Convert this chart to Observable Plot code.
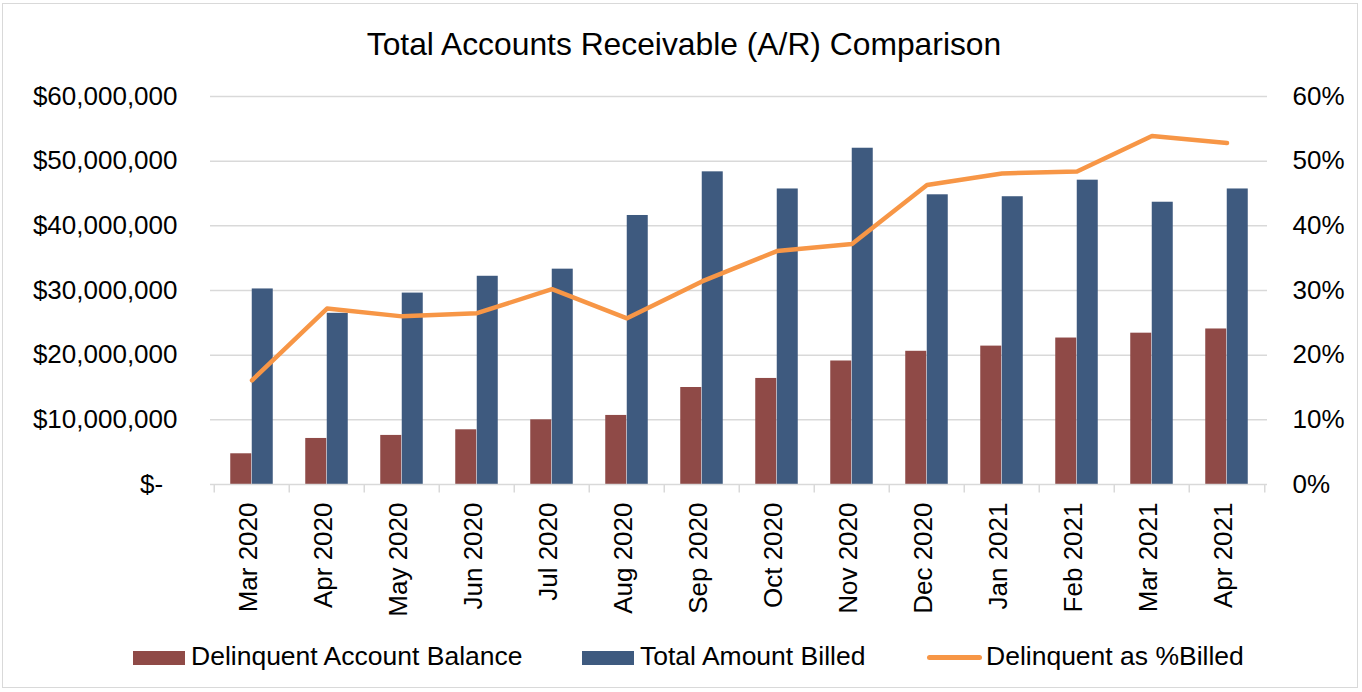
<!DOCTYPE html>
<html>
<head>
<meta charset="utf-8">
<script src="https://cdn.jsdelivr.net/npm/d3@7"></script>
<script src="https://cdn.jsdelivr.net/npm/@observablehq/plot@0.6"></script>
<style>
  html, body { margin: 0; padding: 0; background: #fff; }
  #wrap { position: relative; width: 1362px; height: 692px; overflow: hidden; font-family: "Liberation Sans", Arial, sans-serif; color: #000; }
  #frame { position: absolute; left: 2px; top: 3px; width: 1356px; height: 685px; border: 1.5px solid #d9d9d9; box-sizing: border-box; pointer-events: none; }
  #title { position: absolute; left: 0; width: 1368px; top: 29px; text-align: center; font-size: 31.8px; line-height: 1; white-space: nowrap; }
  #chart { position: absolute; left: 0; top: 0; }
  .leg { position: absolute; top: 643px; font-size: 26.5px; line-height: 1; white-space: nowrap; }
  .sw { position: absolute; }
</style>
</head>
<body>
<div id="wrap">
  <div id="chart"></div>
  <div id="title">Total Accounts Receivable (A/R) Comparison</div>
  <div id="legend"></div>
  <div id="frame"></div>
</div>
<script>
const months = ["Mar 2020","Apr 2020","May 2020","Jun 2020","Jul 2020","Aug 2020","Sep 2020","Oct 2020","Nov 2020","Dec 2020","Jan 2021","Feb 2021","Mar 2021","Apr 2021"];
const delinquent = [4750000, 7120000, 7590000, 8460000, 10000000, 10680000, 15000000, 16400000, 19100000, 20600000, 21400000, 22650000, 23400000, 24050000];
const billed = [30240000, 26470000, 29600000, 32200000, 33300000, 41600000, 48350000, 45700000, 52000000, 44800000, 44500000, 47060000, 43650000, 45700000];
const pctBilled = [16.1, 27.2, 26.0, 26.5, 30.2, 25.7, 31.4, 36.1, 37.2, 46.3, 48.1, 48.4, 53.9, 52.8];
const leftTicks = [0, 10000000, 20000000, 30000000, 40000000, 50000000, 60000000];
const rightTicks = [0, 10, 20, 30, 40, 50, 60];
const seriesNames = ["Delinquent Account Balance", "Total Amount Billed", "Delinquent as %Billed"];
const colors = ["#8F4A47", "#3E5A7F", "#F79646"];

const rows = months.map((m, i) => ({month: m, delinquent: delinquent[i], billed: billed[i], pct: pctBilled[i]}));
// secondary axis: 0–60% maps onto 0–$60M
const pctToY = p => p * 1e6;

const bw = (1267 - 210) / months.length;
const barW = 21.5;
const half = bw / 2;

const fmtMoney = d3.format(",");
const chart = Plot.plot({
  width: 1362,
  height: 692,
  marginTop: 96,
  marginBottom: 208,
  marginLeft: 210,
  marginRight: 95,
  style: {fontFamily: "'Liberation Sans', Arial, sans-serif", fontSize: "26px", color: "#000", background: "transparent", overflow: "visible"},
  x: {type: "band", domain: months, padding: 0, label: null},
  y: {domain: [0, 60000000], label: null},
  marks: [
    Plot.ruleY(leftTicks.slice(1), {stroke: "#d9d9d9", strokeWidth: 1.5}),
    Plot.barY(rows, {x: "month", y: "delinquent", fill: colors[0], insetLeft: half - barW, insetRight: half}),
    Plot.barY(rows, {x: "month", y: "billed", fill: colors[1], insetLeft: half, insetRight: half - barW}),
    Plot.ruleY([0], {stroke: "#d9d9d9", strokeWidth: 1.5}),
    Plot.ruleX(months, {x: d => d, y1: 0, y2: -1300000, dx: -half, stroke: "#d9d9d9", strokeWidth: 1.5}),
    Plot.ruleX(months.slice(-1), {x: d => d, y1: 0, y2: -1300000, dx: half, stroke: "#d9d9d9", strokeWidth: 1.5}),
    Plot.lineY(rows, {x: "month", y: d => pctToY(d.pct), stroke: colors[2], strokeWidth: 4.5, strokeLinecap: "round", strokeLinejoin: "round"}),
    Plot.axisY(leftTicks, {anchor: "left", tickSize: 0, tickPadding: 33, fontSize: 26,
      tickFormat: d => d === 0 ? "$-\u2007" : "$" + fmtMoney(d), label: null}),
    Plot.axisY(rightTicks.map(pctToY), {anchor: "right", tickSize: 0, tickPadding: 25, fontSize: 26,
      tickFormat: d => (d / 1e6) + "%", label: null}),
    Plot.axisX({tickRotate: -90, tickSize: 0, tickPadding: 18, dx: -3, fontSize: 26, label: null})
  ]
});
document.getElementById("chart").appendChild(chart);

// legend
const legend = document.getElementById("legend");
const legItems = [
  {swLeft: 133, textLeft: 191, kind: "rect"},
  {swLeft: 582, textLeft: 640, kind: "rect"},
  {swLeft: 927, textLeft: 986, kind: "line"}
];
legItems.forEach((it, i) => {
  const sw = document.createElement("div");
  sw.className = "sw";
  if (it.kind === "rect") {
    Object.assign(sw.style, {left: it.swLeft + "px", top: "650.5px", width: "52px", height: "14px", background: colors[i]});
  } else {
    Object.assign(sw.style, {left: it.swLeft + "px", top: "654.5px", width: "55px", height: "5.5px", background: colors[i], borderRadius: "3px"});
  }
  legend.appendChild(sw);
  const t = document.createElement("div");
  t.className = "leg";
  t.style.left = it.textLeft + "px";
  t.textContent = seriesNames[i];
  legend.appendChild(t);
});
</script>
</body>
</html>
